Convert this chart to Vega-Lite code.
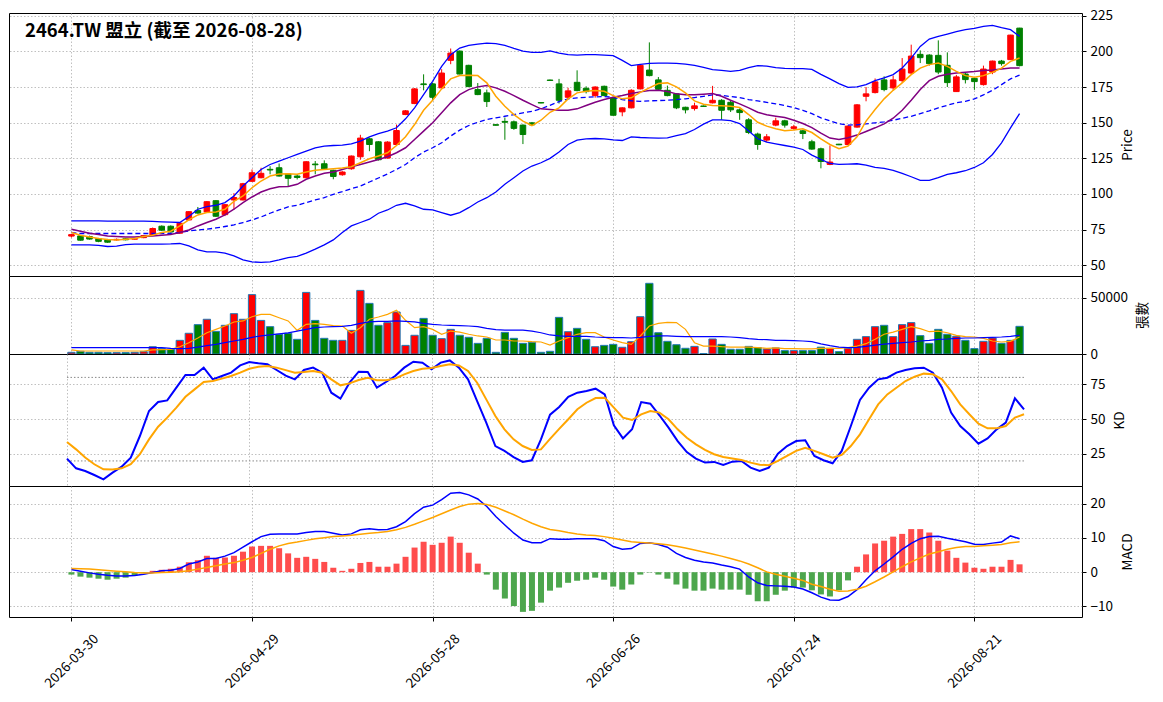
{
  "$schema": "https://vega.github.io/schema/vega-lite/v6.json",
  "padding": {"left": 8, "top": 8, "right": 0, "bottom": 0},
  "spacing": 0,
  "bounds": "flush",
  "datasets": {
    "k": [
      {"date":"2026-03-30","open":70.5,"high":72,"low":69.5,"close":71.5,"vol":1500,"ma5":73,"ma10":75.3,"bbu":81.1,"bbm":73,"bbl":64.3,"vma5":3600,"vma20":5700,"K":21.7,"D":33.6,"dif":0.8,"dea":1.1,"osc":-0.7},
      {"date":"2026-03-31","open":70.6,"high":71.2,"low":67.3,"close":67.6,"vol":2400,"ma5":71.1,"ma10":73.9,"bbu":81.1,"bbm":72.3,"bbl":64.3,"vma5":2700,"vma20":5700,"K":14.7,"D":28.3,"dif":0.3,"dea":1.0,"osc":-1.3},
      {"date":"2026-04-01","open":70.2,"high":70.8,"low":68,"close":68.4,"vol":1500,"ma5":69.9,"ma10":72.5,"bbu":81.1,"bbm":72.3,"bbl":64.3,"vma5":2700,"vma20":5700,"K":12.8,"D":22.4,"dif":-0.2,"dea":0.9,"osc":-1.6},
      {"date":"2026-04-02","open":68.8,"high":69.2,"low":66.2,"close":66.8,"vol":1500,"ma5":68.8,"ma10":71.6,"bbu":81.1,"bbm":72.3,"bbl":64,"vma5":2700,"vma20":5700,"K":9.9,"D":17.6,"dif":-0.6,"dea":0.7,"osc":-1.9},
      {"date":"2026-04-07","open":68.1,"high":68.5,"low":65.8,"close":66.2,"vol":1200,"ma5":68.1,"ma10":70.6,"bbu":81,"bbm":72.3,"bbl":63.2,"vma5":2700,"vma20":5700,"K":6.8,"D":14,"dif":-0.9,"dea":0.5,"osc":-2.2},
      {"date":"2026-04-08","open":67.8,"high":68.8,"low":67.2,"close":68.2,"vol":1200,"ma5":67.8,"ma10":70.2,"bbu":81,"bbm":72.3,"bbl":63.5,"vma5":2700,"vma20":5700,"K":11.6,"D":13.8,"dif":-1.1,"dea":0.3,"osc":-1.9},
      {"date":"2026-04-09","open":68.6,"high":69,"low":67.5,"close":67.9,"vol":1200,"ma5":68.3,"ma10":69.9,"bbu":81,"bbm":72.3,"bbl":64.5,"vma5":2700,"vma20":5700,"K":15.9,"D":14.7,"dif":-1.1,"dea":0.1,"osc":-1.6},
      {"date":"2026-04-10","open":68.3,"high":69,"low":68,"close":68.7,"vol":1500,"ma5":68.8,"ma10":69.9,"bbu":81,"bbm":72.3,"bbl":64.8,"vma5":2700,"vma20":5700,"K":22.4,"D":17.6,"dif":-1.0,"dea":-0.1,"osc":-0.9},
      {"date":"2026-04-13","open":69.4,"high":71,"low":69,"close":70.8,"vol":2100,"ma5":70.2,"ma10":70.2,"bbu":81,"bbm":72.3,"bbl":64.8,"vma5":2700,"vma20":5700,"K":37.9,"D":24.8,"dif":-0.6,"dea":-0.2,"osc":-0.2},
      {"date":"2026-04-14","open":71,"high":76.5,"low":70.8,"close":75.8,"vol":6500,"ma5":71.1,"ma10":70.6,"bbu":80.8,"bbm":72.3,"bbl":64.8,"vma5":3600,"vma20":5700,"K":55.9,"D":35.5,"dif":-0.1,"dea":-0.2,"osc":0.4},
      {"date":"2026-04-15","open":77.4,"high":78,"low":74.2,"close":74.6,"vol":4800,"ma5":73,"ma10":71.1,"bbu":80.5,"bbm":72.3,"bbl":64.9,"vma5":3900,"vma20":5700,"K":62.3,"D":44.6,"dif":0.4,"dea":-0.1,"osc":0.7},
      {"date":"2026-04-16","open":77.4,"high":78,"low":73,"close":73.4,"vol":4200,"ma5":73.9,"ma10":71.6,"bbu":80.3,"bbm":72.4,"bbl":65,"vma5":4200,"vma20":5100,"K":63.5,"D":51.1,"dif":0.6,"dea":0,"osc":1.0},
      {"date":"2026-04-17","open":72.5,"high":80,"low":72.3,"close":79.5,"vol":12200,"ma5":77.6,"ma10":73,"bbu":80,"bbm":73,"bbl":65.3,"vma5":6500,"vma20":4800,"K":72.6,"D":58.3,"dif":1.1,"dea":0.1,"osc":1.6},
      {"date":"2026-04-20","open":81.8,"high":88,"low":81.5,"close":87.6,"vol":18500,"ma5":81.8,"ma10":74.8,"bbu":84.2,"bbm":74.1,"bbl":63.6,"vma5":10100,"vma20":5100,"K":81.7,"D":66.1,"dif":2.4,"dea":0.4,"osc":2.9},
      {"date":"2026-04-21","open":88.5,"high":90.9,"low":86.2,"close":86.6,"vol":26200,"ma5":85.3,"ma10":77.6,"bbu":89.3,"bbm":74.8,"bbl":60.8,"vma5":14300,"vma20":6200,"K":81.7,"D":71.4,"dif":3.0,"dea":0.9,"osc":3.5},
      {"date":"2026-04-22","open":87.4,"high":95,"low":87,"close":94.6,"vol":31000,"ma5":87,"ma10":80,"bbu":91.2,"bbm":75.3,"bbl":59.4,"vma5":19000,"vma20":7400,"K":87,"D":76.7,"dif":4.0,"dea":1.4,"osc":4.8},
      {"date":"2026-04-23","open":95.3,"high":95.6,"low":84,"close":84.4,"vol":20200,"ma5":87.4,"ma10":82.3,"bbu":92.1,"bbm":76.2,"bbl":59.4,"vma5":22000,"vma20":8600,"K":78.6,"D":77.4,"dif":4.0,"dea":1.9,"osc":4.2},
      {"date":"2026-04-24","open":85.5,"high":93,"low":84.5,"close":92.5,"vol":25600,"ma5":89.3,"ma10":85.3,"bbu":94,"bbm":77.2,"bbl":58.5,"vma5":25000,"vma20":10100,"K":81,"D":79.1,"dif":4.7,"dea":2.4,"osc":4.3},
      {"date":"2026-04-27","open":95.8,"high":100.6,"low":89,"close":97.5,"vol":36000,"ma5":94.9,"ma10":89.3,"bbu":98.6,"bbm":78.3,"bbl":56.6,"vma5":28600,"vma20":11600,"K":83.4,"D":81,"dif":5.7,"dea":2.8,"osc":4.8},
      {"date":"2026-04-28","open":95.8,"high":107.8,"low":95.5,"close":107.2,"vol":31000,"ma5":98.6,"ma10":93.9,"bbu":105.6,"bbm":80,"bbl":53.8,"vma5":29500,"vma20":13100,"K":88.6,"D":83.4,"dif":7.3,"dea":3.5,"osc":6.0},
      {"date":"2026-04-29","open":108.9,"high":117.2,"low":108.5,"close":114.9,"vol":53000,"ma5":104.4,"ma10":97.9,"bbu":111.4,"bbm":81.8,"bbl":52.4,"vma5":33300,"vma20":14900,"K":91,"D":86.2,"dif":8.9,"dea":4.3,"osc":7.5},
      {"date":"2026-04-30","open":111.4,"high":118.4,"low":111,"close":114.5,"vol":30000,"ma5":109.1,"ma10":101.4,"bbu":117.2,"bbm":83.9,"bbl":52,"vma5":35400,"vma20":16100,"K":90.1,"D":87.7,"dif":10.4,"dea":5.5,"osc":7.7},
      {"date":"2026-05-04","open":117.3,"high":119.5,"low":113.8,"close":116.8,"vol":24400,"ma5":112.6,"ma10":103.7,"bbu":120.7,"bbm":86.5,"bbl":52.4,"vma5":35400,"vma20":17000,"K":89.4,"D":88.2,"dif":11.1,"dea":6.7,"osc":7.7},
      {"date":"2026-05-05","open":118.4,"high":121.4,"low":112.2,"close":112.6,"vol":17600,"ma5":114,"ma10":105.1,"bbu":123.1,"bbm":88.8,"bbl":53.8,"vma5":32400,"vma20":17900,"K":85.3,"D":87,"dif":11.2,"dea":7.7,"osc":7.0},
      {"date":"2026-05-06","open":114,"high":114.5,"low":105.5,"close":111,"vol":18500,"ma5":114.2,"ma10":105.2,"bbu":125.4,"bbm":91,"bbl":55.4,"vma5":29500,"vma20":18800,"K":81.2,"D":85.2,"dif":11.2,"dea":8.4,"osc":5.5},
      {"date":"2026-05-07","open":112.6,"high":113.8,"low":110.2,"close":111.6,"vol":13100,"ma5":113.8,"ma10":106.8,"bbu":127.7,"bbm":92.1,"bbl":56.2,"vma5":21100,"vma20":20500,"K":78.6,"D":83.4,"dif":11.2,"dea":8.8,"osc":4.2},
      {"date":"2026-05-08","open":111.4,"high":123,"low":111,"close":122.6,"vol":55000,"ma5":115.4,"ma10":110.3,"bbu":130,"bbm":94,"bbl":58.5,"vma5":26500,"vma20":22000,"K":85.3,"D":83.9,"dif":11.6,"dea":9.3,"osc":4.5},
      {"date":"2026-05-11","open":121,"high":123.1,"low":113.8,"close":120.5,"vol":30000,"ma5":116.6,"ma10":112.6,"bbu":132.4,"bbm":95.8,"bbl":61.3,"vma5":27100,"vma20":23500,"K":87,"D":84.6,"dif":11.9,"dea":9.8,"osc":3.9},
      {"date":"2026-05-12","open":121.2,"high":123.6,"low":117.2,"close":117.7,"vol":14000,"ma5":117.2,"ma10":114.5,"bbu":133.6,"bbm":97.4,"bbl":64.3,"vma5":26500,"vma20":24100,"K":83.4,"D":83.4,"dif":11.9,"dea":10.1,"osc":3.0},
      {"date":"2026-05-13","open":116.6,"high":117,"low":110.3,"close":112.3,"vol":12200,"ma5":117.7,"ma10":115.4,"bbu":134,"bbm":99.8,"bbl":67.8,"vma5":25300,"vma20":24400,"K":69,"D":78.6,"dif":11.4,"dea":10.4,"osc":1.3},
      {"date":"2026-05-14","open":113.5,"high":116,"low":112.8,"close":115.4,"vol":12200,"ma5":118.2,"ma10":117.2,"bbu":134.3,"bbm":101.6,"bbl":73,"vma5":25000,"vma20":24700,"K":64.7,"D":74.3,"dif":10.9,"dea":10.6,"osc":0.4},
      {"date":"2026-05-15","open":117.7,"high":127,"low":117,"close":126.6,"vol":21100,"ma5":119.1,"ma10":119.1,"bbu":135.2,"bbm":103.7,"bbl":77.6,"vma5":18500,"vma20":25600,"K":76.2,"D":75.7,"dif":11.2,"dea":10.8,"osc":1.0},
      {"date":"2026-05-18","open":126.1,"high":141.5,"low":124,"close":139.2,"vol":56800,"ma5":121.9,"ma10":120.7,"bbu":137.1,"bbm":105.6,"bbl":80,"vma5":23500,"vma20":27400,"K":84.1,"D":78.1,"dif":12.4,"dea":11.1,"osc":2.7},
      {"date":"2026-05-19","open":138.7,"high":139.5,"low":130,"close":134.7,"vol":45200,"ma5":124.7,"ma10":122.4,"bbu":140.1,"bbm":108.4,"bbl":82.3,"vma5":31000,"vma20":28600,"K":83.9,"D":79.8,"dif":12.7,"dea":11.4,"osc":3.0},
      {"date":"2026-05-20","open":136.6,"high":137,"low":123.5,"close":124,"vol":25600,"ma5":126.6,"ma10":124.2,"bbu":142.4,"bbm":111.2,"bbl":86.5,"vma5":33000,"vma20":29200,"K":72.6,"D":77.9,"dif":12.4,"dea":11.6,"osc":1.6},
      {"date":"2026-05-21","open":125.2,"high":137,"low":124.8,"close":136.4,"vol":28000,"ma5":128.9,"ma10":126.1,"bbu":144.1,"bbm":114,"bbl":88.8,"vma5":35400,"vma20":29200,"K":76.7,"D":77.9,"dif":12.5,"dea":11.9,"osc":1.6},
      {"date":"2026-05-22","open":134.7,"high":148.7,"low":134,"close":144.5,"vol":37500,"ma5":134,"ma10":128.9,"bbu":146.4,"bbm":117.2,"bbl":92.1,"vma5":39000,"vma20":29500,"K":81,"D":79.1,"dif":13.3,"dea":12.4,"osc":2.5},
      {"date":"2026-05-25","open":155.7,"high":158.8,"low":155.3,"close":158.3,"vol":7700,"ma5":140.1,"ma10":132.4,"bbu":152.7,"bbm":120.7,"bbl":93.5,"vma5":30100,"vma20":29200,"K":87,"D":82.2,"dif":14.8,"dea":13.1,"osc":4.5},
      {"date":"2026-05-26","open":163.4,"high":174.2,"low":163,"close":173.7,"vol":16700,"ma5":148.7,"ma10":138.2,"bbu":160.4,"bbm":125.4,"bbl":91.6,"vma5":23500,"vma20":28600,"K":91.3,"D":84.6,"dif":17.1,"dea":14,"osc":7.2},
      {"date":"2026-05-27","open":177.2,"high":183.9,"low":172.7,"close":176.7,"vol":31800,"ma5":158.7,"ma10":144.1,"bbu":169.7,"bbm":129.4,"bbl":89.3,"vma5":24400,"vma20":27400,"K":90.6,"D":86.2,"dif":19,"dea":15,"osc":8.9},
      {"date":"2026-05-28","open":177.2,"high":178,"low":165.5,"close":167.8,"vol":16700,"ma5":165.7,"ma10":149.9,"bbu":179,"bbm":132.4,"bbl":88.8,"vma5":22000,"vma20":26500,"K":85.8,"D":86.7,"dif":19.6,"dea":16,"osc":8.0},
      {"date":"2026-05-29","open":174.4,"high":187.5,"low":174,"close":184.8,"vol":13700,"ma5":173.7,"ma10":156.9,"bbu":189.5,"bbm":135.9,"bbl":87,"vma5":17600,"vma20":25900,"K":90.6,"D":88.2,"dif":21.2,"dea":17.1,"osc":8.6},
      {"date":"2026-06-01","open":193.7,"high":202,"low":191,"close":198.8,"vol":22000,"ma5":180.7,"ma10":163.9,"bbu":197.7,"bbm":140.6,"bbl":85.1,"vma5":20500,"vma20":25600,"K":92.2,"D":89.4,"dif":23.1,"dea":18.2,"osc":10.4},
      {"date":"2026-06-02","open":200.2,"high":200.6,"low":183.8,"close":184.1,"vol":16700,"ma5":183,"ma10":169.7,"bbu":202.3,"bbm":144.8,"bbl":87,"vma5":19600,"vma20":25300,"K":87,"D":88.6,"dif":23.3,"dea":19.2,"osc":8.6},
      {"date":"2026-06-03","open":190.2,"high":190.6,"low":175,"close":175.3,"vol":14900,"ma5":183.2,"ma10":173.2,"bbu":204.2,"bbm":148,"bbl":90.4,"vma5":17600,"vma20":25000,"K":78.6,"D":84.6,"dif":22.6,"dea":19.9,"osc":5.7},
      {"date":"2026-06-04","open":173.2,"high":177.8,"low":169.3,"close":169.7,"vol":9500,"ma5":183,"ma10":175.1,"bbu":205.1,"bbm":150.3,"bbl":94.4,"vma5":16100,"vma20":24400,"K":63,"D":76.2,"dif":21.4,"dea":20.1,"osc":2.5},
      {"date":"2026-06-05","open":170.9,"high":173.2,"low":161,"close":164.8,"vol":14000,"ma5":177.9,"ma10":176,"bbu":205.8,"bbm":152.2,"bbl":97.4,"vma5":15200,"vma20":22900,"K":47.5,"D":64.2,"dif":19.2,"dea":19.8,"osc":-0.7},
      {"date":"2026-06-08","open":148.6,"high":148.9,"low":148,"close":148.2,"vol":1500,"ma5":168.5,"ma10":174.4,"bbu":205.4,"bbm":153.4,"bbl":101.4,"vma5":12500,"vma20":21700,"K":30.7,"D":52.3,"dif":16.3,"dea":19,"osc":-5.1},
      {"date":"2026-06-09","open":150.9,"high":153.6,"low":138,"close":150.3,"vol":19300,"ma5":161.5,"ma10":172,"bbu":204.2,"bbm":154.5,"bbl":106.8,"vma5":12500,"vma20":21400,"K":27.2,"D":42.7,"dif":13.8,"dea":17.9,"osc":-7.7},
      {"date":"2026-06-10","open":150.6,"high":151.5,"low":145,"close":146,"vol":14000,"ma5":155.7,"ma10":169,"bbu":202.1,"bbm":155.7,"bbl":111.4,"vma5":11600,"vma20":21400,"K":22.8,"D":35.5,"dif":11.4,"dea":16.8,"osc":-9.9},
      {"date":"2026-06-11","open":148.3,"high":148.8,"low":135,"close":141.7,"vol":9500,"ma5":151.1,"ma10":165.7,"bbu":200.2,"bbm":156.9,"bbl":116.1,"vma5":11600,"vma20":21400,"K":19.3,"D":30.7,"dif":9.4,"dea":15.5,"osc":-11.6},
      {"date":"2026-06-12","open":149.9,"high":150.5,"low":148,"close":148.5,"vol":10400,"ma5":148,"ma10":162.7,"bbu":199.3,"bbm":158,"bbl":119.6,"vma5":11000,"vma20":20500,"K":20.5,"D":27.9,"dif":8.6,"dea":14.3,"osc":-11.3},
      {"date":"2026-06-15","open":164.1,"high":164.4,"low":163.6,"close":163.8,"vol":1500,"ma5":151.7,"ma10":159.7,"bbu":199.3,"bbm":159.7,"bbl":121.9,"vma5":10700,"vma20":19000,"K":35.5,"D":28.3,"dif":8.6,"dea":13.3,"osc":-8.9},
      {"date":"2026-06-16","open":179.9,"high":180.2,"low":179.5,"close":179.6,"vol":2400,"ma5":157.3,"ma10":159.2,"bbu":200.3,"bbm":162.2,"bbl":125,"vma5":8000,"vma20":17000,"K":53.2,"D":35.8,"dif":9.8,"dea":12.5,"osc":-5.4},
      {"date":"2026-06-17","open":177.2,"high":180.7,"low":163.4,"close":165.7,"vol":32700,"ma5":160.4,"ma10":158.7,"bbu":198.8,"bbm":164.8,"bbl":129.4,"vma5":11600,"vma20":16100,"K":58.8,"D":43,"dif":9.6,"dea":12.1,"osc":-4.5},
      {"date":"2026-06-18","open":167.8,"high":174.5,"low":167,"close":172.3,"vol":19900,"ma5":166.7,"ma10":158.7,"bbu":197.7,"bbm":166.7,"bbl":134.7,"vma5":14600,"vma20":15800,"K":66.1,"D":49.9,"dif":9.6,"dea":11.6,"osc":-3.1},
      {"date":"2026-06-22","open":178.3,"high":186.7,"low":172,"close":172.5,"vol":22900,"ma5":170.9,"ma10":159.7,"bbu":197.4,"bbm":167.4,"bbl":137.8,"vma5":17600,"vma20":15800,"K":69,"D":57.1,"dif":9.8,"dea":11.2,"osc":-2.5},
      {"date":"2026-06-23","open":174.1,"high":175.5,"low":170.5,"close":171.8,"vol":13100,"ma5":172,"ma10":162,"bbu":197.7,"bbm":167.8,"bbl":138.7,"vma5":19000,"vma20":15800,"K":70.2,"D":61.8,"dif":9.8,"dea":10.9,"osc":-2.2},
      {"date":"2026-06-24","open":169,"high":175.5,"low":167.5,"close":175,"vol":6500,"ma5":172.5,"ma10":164.3,"bbu":197.7,"bbm":168.1,"bbl":138.9,"vma5":19000,"vma20":15200,"K":71.9,"D":65.2,"dif":9.8,"dea":10.7,"osc":-1.6},
      {"date":"2026-06-25","open":175.5,"high":176,"low":168.5,"close":169,"vol":7700,"ma5":172,"ma10":166.2,"bbu":197.4,"bbm":168.3,"bbl":138.7,"vma5":15200,"vma20":14900,"K":67.8,"D":65.4,"dif":9.2,"dea":10.4,"osc":-2.2},
      {"date":"2026-06-26","open":167.4,"high":168,"low":155,"close":155.2,"vol":8600,"ma5":169,"ma10":167.8,"bbu":197,"bbm":167.8,"bbl":138,"vma5":12500,"vma20":14600,"K":45.6,"D":58.3,"dif":7.5,"dea":9.9,"osc":-4.2},
      {"date":"2026-06-29","open":157.6,"high":160.8,"low":154.5,"close":160.4,"vol":6000,"ma5":166.7,"ma10":169,"bbu":193.7,"bbm":166.2,"bbl":137.5,"vma5":10100,"vma20":14600,"K":36.2,"D":51.1,"dif":6.7,"dea":9.4,"osc":-5.1},
      {"date":"2026-06-30","open":160.4,"high":173.5,"low":160,"close":172.7,"vol":11000,"ma5":167.4,"ma10":170.4,"bbu":190,"bbm":165.3,"bbl":140.1,"vma5":8600,"vma20":14300,"K":42.7,"D":49.4,"dif":6.9,"dea":8.9,"osc":-3.6},
      {"date":"2026-07-01","open":173.7,"high":191,"low":173.3,"close":190.2,"vol":33300,"ma5":171.3,"ma10":171.6,"bbu":190.9,"bbm":165,"bbl":139.6,"vma5":16100,"vma20":14900,"K":62.3,"D":53.5,"dif":8.4,"dea":8.7,"osc":-0.7},
      {"date":"2026-07-02","open":186.9,"high":206.3,"low":182.5,"close":183,"vol":63100,"ma5":174.4,"ma10":172.5,"bbu":191.6,"bbm":165.3,"bbl":139.4,"vma5":25000,"vma20":15800,"K":61.1,"D":55.9,"dif":8.6,"dea":8.5,"osc":-0.1},
      {"date":"2026-07-03","open":180,"high":182,"low":172.5,"close":173.4,"vol":19000,"ma5":177.4,"ma10":172.7,"bbu":191.8,"bbm":165.5,"bbl":139.2,"vma5":27400,"vma20":16100,"K":52.8,"D":54.7,"dif":8.1,"dea":8.3,"osc":-0.7},
      {"date":"2026-07-06","open":172.7,"high":176,"low":168.5,"close":169,"vol":11300,"ma5":177.9,"ma10":171.8,"bbu":191.8,"bbm":165.7,"bbl":139.4,"vma5":28300,"vma20":16100,"K":43.9,"D":49.9,"dif":7.3,"dea":8,"osc":-1.9},
      {"date":"2026-07-07","open":170.2,"high":170.6,"low":159.5,"close":160.4,"vol":8300,"ma5":175.1,"ma10":170.2,"bbu":191.6,"bbm":166.2,"bbl":141,"vma5":28000,"vma20":15800,"K":34.3,"D":42.7,"dif":5.5,"dea":7.6,"osc":-3.6},
      {"date":"2026-07-08","open":160.8,"high":161.2,"low":156.5,"close":159,"vol":5100,"ma5":170.9,"ma10":169.5,"bbu":191.1,"bbm":166.7,"bbl":142.4,"vma5":22000,"vma20":15500,"K":26.4,"D":36.7,"dif":4.3,"dea":7.1,"osc":-4.8},
      {"date":"2026-07-09","open":159.9,"high":164,"low":158.5,"close":161.8,"vol":6800,"ma5":165.3,"ma10":169.5,"bbu":190.2,"bbm":167.6,"bbl":145.2,"vma5":10100,"vma20":15500,"K":21.7,"D":31.9,"dif":3.5,"dea":6.5,"osc":-5.4},
      {"date":"2026-07-10","open":161.7,"high":162,"low":161.2,"close":161.4,"vol":300,"ma5":162.9,"ma10":169.9,"bbu":188.8,"bbm":168.5,"bbl":149,"vma5":7100,"vma20":15500,"K":18.8,"D":27.9,"dif":3,"dea":5.9,"osc":-5.4},
      {"date":"2026-07-13","open":163.9,"high":175.8,"low":163.5,"close":165.7,"vol":13400,"ma5":162,"ma10":170.4,"bbu":187.2,"bbm":169.5,"bbl":152,"vma5":7100,"vma20":15500,"K":19.3,"D":24.8,"dif":2.7,"dea":5.3,"osc":-4.8},
      {"date":"2026-07-14","open":165.7,"high":166.5,"low":152,"close":158.7,"vol":8600,"ma5":161.8,"ma10":168.5,"bbu":186.7,"bbm":169.2,"bbl":152,"vma5":6500,"vma20":15500,"K":17.1,"D":22.8,"dif":2.1,"dea":4.7,"osc":-5.1},
      {"date":"2026-07-15","open":164.3,"high":165.5,"low":157.5,"close":159,"vol":4200,"ma5":161.5,"ma10":165.7,"bbu":186,"bbm":168.3,"bbl":151.5,"vma5":6200,"vma20":15200,"K":19.5,"D":21.7,"dif":1.6,"dea":4,"osc":-5.1},
      {"date":"2026-07-16","open":159,"high":160,"low":152,"close":157.1,"vol":4200,"ma5":160.6,"ma10":163.2,"bbu":186.7,"bbm":167.6,"bbl":149.4,"vma5":6200,"vma20":14600,"K":20,"D":20.7,"dif":0.9,"dea":3.3,"osc":-5.1},
      {"date":"2026-07-17","open":152,"high":153.2,"low":142,"close":143.1,"vol":6800,"ma5":155.7,"ma10":160.4,"bbu":188.6,"bbm":166.2,"bbl":144.1,"vma5":6200,"vma20":13700,"K":15.2,"D":18.8,"dif":-1.4,"dea":2.4,"osc":-6.6},
      {"date":"2026-07-20","open":142,"high":143,"low":131,"close":134.7,"vol":5700,"ma5":150.3,"ma10":157.3,"bbu":190,"bbm":165.3,"bbl":138.7,"vma5":5700,"vma20":13100,"K":12.8,"D":17.3,"dif":-3.1,"dea":1.3,"osc":-8.5},
      {"date":"2026-07-21","open":137.8,"high":142,"low":136.5,"close":140.1,"vol":4500,"ma5":147.6,"ma10":155.5,"bbu":189.7,"bbm":164.3,"bbl":136.4,"vma5":5100,"vma20":12800,"K":15.2,"D":16.9,"dif":-3.9,"dea":0.1,"osc":-8.5},
      {"date":"2026-07-22","open":148.3,"high":153.5,"low":147.5,"close":151.3,"vol":5400,"ma5":145.7,"ma10":154.5,"bbu":188.6,"bbm":163.2,"bbl":135.2,"vma5":5400,"vma20":12200,"K":25.2,"D":20,"dif":-4,"dea":-0.6,"osc":-6.6},
      {"date":"2026-07-23","open":151.3,"high":152,"low":146.5,"close":148.3,"vol":3000,"ma5":144.3,"ma10":153.6,"bbu":188.1,"bbm":162,"bbl":134,"vma5":4800,"vma20":12200,"K":30.7,"D":23.6,"dif":-4.1,"dea":-1.2,"osc":-5.4},
      {"date":"2026-07-24","open":146,"high":148.5,"low":145,"close":147.1,"vol":3000,"ma5":144.8,"ma10":151.7,"bbu":187.9,"bbm":160.6,"bbl":132.9,"vma5":4800,"vma20":11900,"K":34.3,"D":27.2,"dif":-4.3,"dea":-1.8,"osc":-4.5},
      {"date":"2026-07-27","open":144.3,"high":145,"low":138.5,"close":142.4,"vol":3000,"ma5":145.7,"ma10":149.4,"bbu":187.9,"bbm":158.7,"bbl":131.2,"vma5":4500,"vma20":11600,"K":34.8,"D":29.5,"dif":-4.9,"dea":-2.4,"osc":-4.5},
      {"date":"2026-07-28","open":136.6,"high":138,"low":131,"close":131.5,"vol":3000,"ma5":143.1,"ma10":146.5,"bbu":187.4,"bbm":156.3,"bbl":127.3,"vma5":4600,"vma20":11000,"K":23.6,"D":27.2,"dif":-6,"dea":-3.5,"osc":-5.3},
      {"date":"2026-07-29","open":131.7,"high":132.5,"low":118,"close":122.8,"vol":6100,"ma5":138.6,"ma10":142.7,"bbu":183.9,"bbm":153.4,"bbl":124.3,"vma5":5000,"vma20":9100,"K":20.5,"D":24.8,"dif":-7.3,"dea":-4.2,"osc":-6.5},
      {"date":"2026-07-30","open":120.7,"high":134,"low":120.2,"close":122.4,"vol":5100,"ma5":134.7,"ma10":139.2,"bbu":180.7,"bbm":151.3,"bbl":121.4,"vma5":5100,"vma20":7400,"K":18.3,"D":22.4,"dif":-8.1,"dea":-5,"osc":-7.1},
      {"date":"2026-07-31","open":134.9,"high":135.2,"low":134.2,"close":134.5,"vol":2100,"ma5":131.7,"ma10":138.2,"bbu":177.4,"bbm":149.2,"bbl":120.7,"vma5":5100,"vma20":6200,"K":27.2,"D":24.3,"dif":-8.2,"dea":-5.6,"osc":-5.3},
      {"date":"2026-08-03","open":134.7,"high":148,"low":134.3,"close":147.6,"vol":5100,"ma5":133.6,"ma10":139.4,"bbu":174.8,"bbm":148.3,"bbl":121,"vma5":5700,"vma20":5700,"K":45.1,"D":30.7,"dif":-7.1,"dea":-5.5,"osc":-2.4},
      {"date":"2026-08-04","open":146.9,"high":163,"low":146.5,"close":162.5,"vol":13100,"ma5":140.1,"ma10":141.3,"bbu":175.1,"bbm":148.5,"bbl":121.2,"vma5":7100,"vma20":6000,"K":63.8,"D":39.1,"dif":-5.1,"dea":-5,"osc":1.6},
      {"date":"2026-08-05","open":168.5,"high":175,"low":165,"close":170.2,"vol":15500,"ma5":151.1,"ma10":143.8,"bbu":176.7,"bbm":149.2,"bbl":120.3,"vma5":9200,"vma20":6800,"K":72.6,"D":49.9,"dif":-2.2,"dea":-4.1,"osc":5.2},
      {"date":"2026-08-06","open":171.1,"high":181,"low":170.5,"close":178.6,"vol":24400,"ma5":159.2,"ma10":146.4,"bbu":179.5,"bbm":149.9,"bbl":118.6,"vma5":13100,"vma20":8000,"K":78.6,"D":60.6,"dif":0.4,"dea":-2.8,"osc":8.4},
      {"date":"2026-08-07","open":180,"high":182.5,"low":172,"close":173.2,"vol":25600,"ma5":166.7,"ma10":149.2,"bbu":181.4,"bbm":150.6,"bbl":117.9,"vma5":17600,"vma20":8900,"K":79.8,"D":67.8,"dif":2.4,"dea":-1.4,"osc":9.2},
      {"date":"2026-08-10","open":174.4,"high":183,"low":173,"close":180,"vol":15500,"ma5":172.7,"ma10":153.1,"bbu":183.7,"bbm":151.7,"bbl":116.6,"vma5":19600,"vma20":9500,"K":83.4,"D":72.6,"dif":4.5,"dea":0.1,"osc":10.4},
      {"date":"2026-08-11","open":179.5,"high":195.3,"low":178,"close":187.6,"vol":26200,"ma5":177.9,"ma10":158.7,"bbu":188.3,"bbm":153.1,"bbl":114.5,"vma5":22000,"vma20":10100,"K":85.3,"D":77.4,"dif":6.7,"dea":1.6,"osc":11.2},
      {"date":"2026-08-12","open":184.8,"high":204.7,"low":184,"close":196.7,"vol":28000,"ma5":183.7,"ma10":165.7,"bbu":195.3,"bbm":154.5,"bbl":112.1,"vma5":24400,"vma20":10700,"K":86.5,"D":80.5,"dif":8.4,"dea":3,"osc":12.6},
      {"date":"2026-08-13","open":197.9,"high":200.7,"low":191.8,"close":195.6,"vol":16400,"ma5":188.3,"ma10":173.2,"bbu":203.5,"bbm":156.4,"bbl":109.6,"vma5":22600,"vma20":11600,"K":87,"D":82.7,"dif":9.8,"dea":4.2,"osc":12.6},
      {"date":"2026-08-14","open":197.4,"high":198,"low":190,"close":191.4,"vol":9500,"ma5":190.7,"ma10":179.5,"bbu":208.6,"bbm":158.3,"bbl":109.6,"vma5":19900,"vma20":12200,"K":83.4,"D":82.2,"dif":10.4,"dea":5.3,"osc":11.6},
      {"date":"2026-08-17","open":197.2,"high":207.7,"low":184,"close":185.5,"vol":22000,"ma5":191.8,"ma10":182.5,"bbu":210.5,"bbm":160.4,"bbl":111.4,"vma5":20500,"vma20":13100,"K":72.6,"D":78.6,"dif":10.5,"dea":6,"osc":9.2},
      {"date":"2026-08-18","open":190.2,"high":199.3,"low":175,"close":178.1,"vol":17600,"ma5":189.5,"ma10":183.9,"bbu":212.1,"bbm":162.2,"bbl":113.8,"vma5":19000,"vma20":13400,"K":54.7,"D":70.2,"dif":9.9,"dea":6.7,"osc":6.3},
      {"date":"2026-08-19","open":171.8,"high":183.5,"low":171.5,"close":182.1,"vol":15800,"ma5":186,"ma10":184.8,"bbu":213.8,"bbm":163.9,"bbl":114.9,"vma5":16700,"vma20":14000,"K":45.1,"D":60.6,"dif":9.4,"dea":7.2,"osc":4.2},
      {"date":"2026-08-20","open":184.1,"high":185.5,"low":177.5,"close":180.2,"vol":12200,"ma5":183,"ma10":185.3,"bbu":215.2,"bbm":165,"bbl":116.3,"vma5":15500,"vma20":14300,"K":39.1,"D":53.5,"dif":8.9,"dea":7.5,"osc":2.8},
      {"date":"2026-08-21","open":181.1,"high":182,"low":173,"close":178.8,"vol":4800,"ma5":181.8,"ma10":185.8,"bbu":216.1,"bbm":166.7,"bbl":118.6,"vma5":15200,"vma20":14300,"K":32.4,"D":46.8,"dif":8.2,"dea":7.5,"osc":1.3},
      {"date":"2026-08-24","open":176.7,"high":190,"low":176,"close":187.6,"vol":11300,"ma5":183,"ma10":186.5,"bbu":217.5,"bbm":169.5,"bbl":121.9,"vma5":14000,"vma20":14600,"K":36.2,"D":43.4,"dif":8.1,"dea":7.7,"osc":1.0},
      {"date":"2026-08-25","open":185.5,"high":193.5,"low":184,"close":193.2,"vol":14300,"ma5":185.3,"ma10":186.9,"bbu":218.2,"bbm":172.7,"bbl":127.7,"vma5":11600,"vma20":14900,"K":42.7,"D":43.4,"dif":8.5,"dea":7.9,"osc":1.6},
      {"date":"2026-08-26","open":193.2,"high":194,"low":190,"close":191.4,"vol":9500,"ma5":188.3,"ma10":187.6,"bbu":216.6,"bbm":176.7,"bbl":135.9,"vma5":10700,"vma20":15200,"K":47.5,"D":45.1,"dif":8.8,"dea":8.1,"osc":1.6},
      {"date":"2026-08-27","open":194.2,"high":211.6,"low":194,"close":211.4,"vol":12200,"ma5":193,"ma10":188.3,"bbu":215.2,"bbm":180.7,"bbl":146.4,"vma5":11300,"vma20":15800,"K":65,"D":51.1,"dif":10.6,"dea":8.6,"osc":3.6},
      {"date":"2026-08-28","open":216.3,"high":216.5,"low":189.5,"close":190,"vol":24700,"ma5":195.3,"ma10":188.3,"bbu":210.5,"bbm":183.4,"bbl":156.4,"vma5":15200,"vma20":16700,"K":57.1,"D":53.5,"dif":9.8,"dea":8.9,"osc":2.3}
    ]
  },
  "data": {"name": "k"},
  "transform": [{"window": [{"op": "row_number", "as": "n"}]}],
  "vconcat": [
    {
      "width": 1073,
      "height": 263,
      "title": {
        "text": "2464.TW 盟立 (截至 2026-08-28)",
        "anchor": "start",
        "frame": "group",
        "offset": -47,
        "dx": 16,
        "baseline": "alphabetic",
        "font": "Noto Sans CJK TC",
        "fontSize": 18.5,
        "fontWeight": "bold",
        "color": "black"
      },
      "encoding": {
        "x": {
          "field": "n",
          "type": "quantitative",
          "scale": {"domain": [-5.36, 112.36], "nice": false, "zero": false},
          "axis": {"values": [1, 21, 41, 61, 81, 101], "labels": false, "ticks": false, "title": null, "grid": true}
        }
      },
      "layer": [
        {
          "mark": {"type": "rule", "strokeWidth": 1},
          "encoding": {
            "y": {
              "field": "low",
              "type": "quantitative",
              "scale": {"domain": [42.5, 226.9], "nice": false, "zero": false},
              "axis": {"orient": "right", "values": [50, 75, 100, 125, 150, 175, 200, 225], "title": "Price", "grid": true}
            },
            "y2": {"field": "high"},
            "color": {"condition": {"test": "datum.close >= datum.open", "value": "#ff0000"}, "value": "#008000"}
          }
        },
        {
          "mark": {"type": "bar", "width": 5.6, "strokeWidth": 1},
          "encoding": {
            "y": {"field": "open", "type": "quantitative", "axis": {"orient": "right", "values": [50, 75, 100, 125, 150, 175, 200, 225], "title": "Price", "grid": true}},
            "y2": {"field": "close"},
            "fill": {"condition": {"test": "datum.close >= datum.open", "value": "#ff0000"}, "value": "#008000"},
            "stroke": {"condition": {"test": "datum.close >= datum.open", "value": "#ff0000"}, "value": "#008000"}
          }
        },
        {"mark": {"type": "line", "color": "#0000ff", "strokeWidth": 1.3}, "encoding": {"y": {"field": "bbu", "type": "quantitative", "axis": {"orient": "right", "values": [50, 75, 100, 125, 150, 175, 200, 225], "title": "Price", "grid": true}}}},
        {"mark": {"type": "line", "color": "#0000ff", "strokeWidth": 1.3}, "encoding": {"y": {"field": "bbl", "type": "quantitative", "axis": {"orient": "right", "values": [50, 75, 100, 125, 150, 175, 200, 225], "title": "Price", "grid": true}}}},
        {"mark": {"type": "line", "color": "#0000ff", "strokeWidth": 1.3, "strokeDash": [5, 3]}, "encoding": {"y": {"field": "bbm", "type": "quantitative", "axis": {"orient": "right", "values": [50, 75, 100, 125, 150, 175, 200, 225], "title": "Price", "grid": true}}}},
        {"mark": {"type": "line", "color": "#800080", "strokeWidth": 1.5}, "encoding": {"y": {"field": "ma10", "type": "quantitative", "axis": {"orient": "right", "values": [50, 75, 100, 125, 150, 175, 200, 225], "title": "Price", "grid": true}}}},
        {"mark": {"type": "line", "color": "#ffa500", "strokeWidth": 1.5}, "encoding": {"y": {"field": "ma5", "type": "quantitative", "axis": {"orient": "right", "values": [50, 75, 100, 125, 150, 175, 200, 225], "title": "Price", "grid": true}}}}
      ]
    },
    {
      "width": 1073,
      "height": 78,
      "encoding": {
        "x": {
          "field": "n",
          "type": "quantitative",
          "scale": {"domain": [-5.36, 112.36], "nice": false, "zero": false},
          "axis": {"values": [1, 21, 41, 61, 81, 101], "labels": false, "ticks": false, "title": null, "grid": true}
        }
      },
      "layer": [
        {
          "mark": {"type": "bar", "width": 7.3, "stroke": "#1f77b4", "strokeWidth": 1},
          "encoding": {
            "y": {
              "field": "vol",
              "type": "quantitative",
              "scale": {"domain": [0, 69640], "nice": false},
              "axis": {"orient": "right", "values": [0, 50000], "format": "d", "title": "張數", "grid": true}
            },
            "fill": {"condition": {"test": "datum.close >= datum.open", "value": "#ff0000"}, "value": "#008000"}
          }
        },
        {"mark": {"type": "line", "color": "#ffa500", "strokeWidth": 1.2}, "encoding": {"y": {"field": "vma5", "type": "quantitative", "axis": {"orient": "right", "values": [0, 50000], "format": "d", "title": "張數", "grid": true}}}},
        {"mark": {"type": "line", "color": "#0000ff", "strokeWidth": 1.2}, "encoding": {"y": {"field": "vma20", "type": "quantitative", "axis": {"orient": "right", "values": [0, 50000], "format": "d", "title": "張數", "grid": true}}}}
      ]
    },
    {
      "width": 1073,
      "height": 132,
      "encoding": {
        "x": {
          "field": "n",
          "type": "quantitative",
          "scale": {"domain": [-5.36, 112.36], "nice": false, "zero": false},
          "axis": {"values": [1, 21, 41, 61, 81, 101], "labels": false, "ticks": false, "title": null, "grid": true}
        }
      },
      "layer": [
        {
          "mark": {"type": "line", "color": "#888888", "strokeWidth": 1, "strokeDash": [1.5, 2]},
          "encoding": {
            "y": {
              "datum": 80,
              "type": "quantitative",
              "scale": {"domain": [2.0, 96.8], "nice": false, "zero": false},
              "axis": {"orient": "right", "values": [25, 50, 75], "title": "KD", "grid": true}
            }
          }
        },
        {"mark": {"type": "line", "color": "#888888", "strokeWidth": 1, "strokeDash": [1.5, 2]}, "encoding": {"y": {"datum": 20, "type": "quantitative", "axis": {"orient": "right", "values": [25, 50, 75], "title": "KD", "grid": true}}}},
        {"mark": {"type": "line", "color": "#0000ff", "strokeWidth": 2}, "encoding": {"y": {"field": "K", "type": "quantitative", "axis": {"orient": "right", "values": [25, 50, 75], "title": "KD", "grid": true}}}},
        {"mark": {"type": "line", "color": "#ffa500", "strokeWidth": 2}, "encoding": {"y": {"field": "D", "type": "quantitative", "axis": {"orient": "right", "values": [25, 50, 75], "title": "KD", "grid": true}}}}
      ]
    },
    {
      "width": 1073,
      "height": 131,
      "encoding": {
        "x": {
          "field": "n",
          "type": "quantitative",
          "scale": {"domain": [-5.36, 112.36], "nice": false, "zero": false},
          "axis": {
            "values": [1, 21, 41, 61, 81, 101],
            "labelExpr": "['2026-03-30', '2026-04-29', '2026-05-28', '2026-06-26', '2026-07-24', '2026-08-21'][(datum.value - 1) / 20]",
            "title": null,
            "grid": true,
            "ticks": true,
            "labelAngle": -45,
            "labelAlign": "center",
            "labelBaseline": "middle",
            "labelPadding": 40,
            "labelFlush": false,
            "labelOverlap": false
          }
        }
      },
      "layer": [
        {
          "mark": {"type": "bar", "width": 6},
          "encoding": {
            "y": {
              "field": "osc",
              "type": "quantitative",
              "scale": {"domain": [-13.1, 25.2], "nice": false},
              "axis": {"orient": "right", "values": [-10, 0, 10, 20], "title": "MACD", "grid": true}
            },
            "fill": {"condition": {"test": "datum.osc >= 0", "value": "#ff4d4d"}, "value": "#4da64d"}
          }
        },
        {"mark": {"type": "line", "color": "#0000ff", "strokeWidth": 1.5}, "encoding": {"y": {"field": "dif", "type": "quantitative", "axis": {"orient": "right", "values": [-10, 0, 10, 20], "title": "MACD", "grid": true}}}},
        {"mark": {"type": "line", "color": "#ffa500", "strokeWidth": 1.5}, "encoding": {"y": {"field": "dea", "type": "quantitative", "axis": {"orient": "right", "values": [-10, 0, 10, 20], "title": "MACD", "grid": true}}}}
      ]
    }
  ],
  "config": {
    "font": "Noto Sans CJK TC",
    "view": {"stroke": "black", "strokeWidth": 1},
    "axis": {
      "domain": false,
      "labelFont": "Noto Sans CJK TC",
      "labelFontSize": 13.5,
      "labelColor": "black",
      "labelPadding": 4,
      "labelOverlap": false,
      "labelBound": false,
      "tickColor": "black",
      "tickSize": 4,
      "titleFont": "Noto Sans CJK TC",
      "titleFontSize": 13.5,
      "titleFontWeight": "normal",
      "titleColor": "black",
      "titleAngle": 270,
      "titleBaseline": "top",
      "titlePadding": 8,
      "gridColor": "#b0b0b0",
      "gridDash": [1.5, 2],
      "gridWidth": 0.8
    }
  }
}
